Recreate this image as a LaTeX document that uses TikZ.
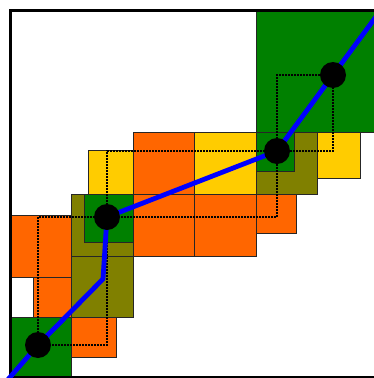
\documentclass[tikz,border=0pt]{standalone}
\usepackage{xcolor}
\usepackage{tikz}
\usetikzlibrary{positioning, calc}
\definecolor{cellorange}{HTML}{FF6600}
\definecolor{cellyellow}{HTML}{FFCC00}
\definecolor{cellolive}{HTML}{808000}
\definecolor{cellgreen}{HTML}{008000}
\begin{document}
\begin{tikzpicture}[x=1pt, y=-1pt, box/.style={draw=black!85, line width=1pt}, stop/.style={circle, fill=black, inner sep=0pt, minimum size=26pt}, link/.style={draw=black, line width=2.2pt, dash pattern=on 2pt off 1pt}, route/.style={draw=blue, line width=4.8pt, line join=round}]
  \useasboundingbox (0, 0) rectangle (374, 378);
  % cells
  \draw[box, fill=cellgreen] (256, 10) rectangle (392, 132);
  \draw[box, fill=cellorange] (10, 215) rectangle (71, 277);
  \draw[box, fill=cellorange] (33, 277) rectangle (71, 317);
  \draw[box, fill=cellgreen] (10, 317) rectangle (71, 377);
  \draw[box, fill=cellorange] (71, 317) rectangle (116, 357);
  \draw[box, fill=cellolive] (71, 194) rectangle (133, 256);
  \draw[box, fill=cellolive] (71, 256) rectangle (133, 317);
  \draw[box, fill=cellgreen] (84, 194) rectangle (133, 242);
  \draw[box, fill=cellyellow] (88, 150) rectangle (133, 194);
  \draw[box, fill=cellorange] (133, 132) rectangle (194, 194);
  \draw[box, fill=cellorange] (133, 194) rectangle (194, 256);
  \draw[box, fill=cellorange] (194, 194) rectangle (256, 256);
  \draw[box, fill=cellyellow] (194, 132) rectangle (256, 194);
  \draw[box, fill=cellolive] (256, 132) rectangle (317, 194);
  \draw[box, fill=cellgreen] (256, 132) rectangle (294, 171);
  \draw[box, fill=cellyellow] (317, 132) rectangle (360, 178);
  \draw[box, fill=cellorange] (256, 194) rectangle (296, 233);
  % frame
  \draw[line width=3pt] (10, 10) rectangle (379, 377.5);
  % path points
  \coordinate (o) at (8, 379.5);
  \coordinate (p1) at (38, 345);
  \coordinate (bend) at (103, 279);
  \coordinate (p2) at (107, 217);
  \coordinate (p3) at (277, 151);
  \coordinate (p4) at (333, 75);
  \coordinate (e) at (378, 14);
  \draw[link] (p1) rectangle (p2);
  \draw[link] (p2) rectangle (p3);
  \draw[link] (p3) rectangle (p4);
  \draw[route] (o) -- (p1) -- (bend) -- (p2) -- (p3) -- (p4) -- (e);
  \node[stop] (c1) at (p1) {};
  \node[stop] (c2) at (p2) {};
  \node[stop] (c3) at (p3) {};
  \node[stop] (c4) at (p4) {};
\end{tikzpicture}
\end{document}
